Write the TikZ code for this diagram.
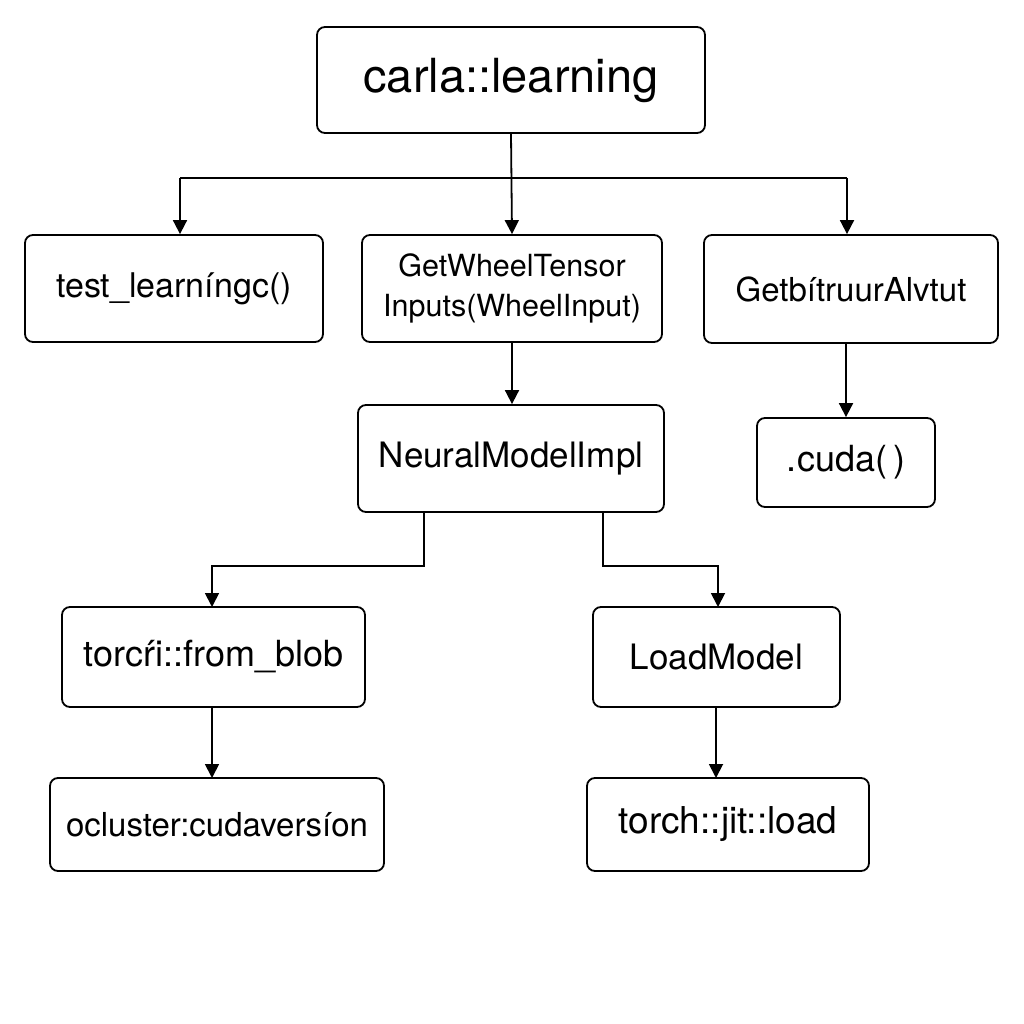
\documentclass[tikz,border=0pt]{standalone}
\usepackage{fontspec}
\setmainfont{TeX Gyre Heros}
\usetikzlibrary{arrows.meta}
\begin{document}
\begin{tikzpicture}[x=1pt,y=-1pt,
  box/.style={draw=black,line width=1.8pt,rounded corners=8pt,fill=white,inner sep=0pt,align=center},
  fsz/.style={font=\fontsize{#1}{40}\selectfont},
  conn/.style={line width=1.8pt,-{Triangle[width=14pt,length=14pt]}},
  plain/.style={line width=1.8pt}]
\useasboundingbox[fill=white] (0,0) rectangle (1024,1024);
\node[box,fsz=47,minimum width=388pt,minimum height=106pt] (top) at (511,80) {carla::learning};
\node[box,fsz=34,minimum width=298pt,minimum height=107pt] (tl) at (174,288.5) {test\_learníngc()};
\node[box,fsz=30.5,minimum width=300pt,minimum height=107pt] (gw) at (512,288.5) {GetWheelTensor\\Inputs(WheelInput)};
\node[box,fsz=33,minimum width=294pt,minimum height=108pt] (gb) at (851,289) {GetbítruurAlvtut};
\node[box,fsz=35,minimum width=306pt,minimum height=107pt] (nm) at (511,458.5) {NeuralModelImpl};
\node[box,fsz=36,minimum width=178pt,minimum height=89pt] (cu) at (846,462.5) {.cuda(\,)};
\node[box,fsz=36,minimum width=303pt,minimum height=100pt] (tf) at (213.5,657) {torcŕi::from\_blob};
\node[box,fsz=33,minimum width=334pt,minimum height=93pt] (oc) at (217,824.5) {ocluster:cudaversíon};
\node[box,fsz=35,minimum width=247pt,minimum height=100pt] (lm) at (716.5,657) {LoadModel};
\node[box,fsz=37,minimum width=282pt,minimum height=93pt] (tj) at (728,824.5) {torch::jit::load};
\coordinate (hl) at (180,178);
\coordinate (hr) at (847,178);
\draw[conn] (top.south) -- (gw.north);
\draw[plain] (hl) -- (hr);
\draw[conn] (hl) -- (hl |- tl.north);
\draw[conn] (hr) -- (hr |- gb.north);
\draw[conn] (gw.south) -- (gw.south |- nm.north);
\draw[conn] (gb.south -| cu.north) -- (cu.north);
\coordinate (nl) at (424,566);
\coordinate (nr) at (603,566);
\draw[conn] (nm.south -| nl) -- (nl) -- (212,566) -- (212,607);
\draw[conn] (nm.south -| nr) -- (nr) -- (718,566) -- (718,607);
\draw[conn] (tf.south -| 212,0) -- (212,778);
\draw[conn] (lm.south -| 716,0) -- (716,778);
\end{tikzpicture}
\end{document}
